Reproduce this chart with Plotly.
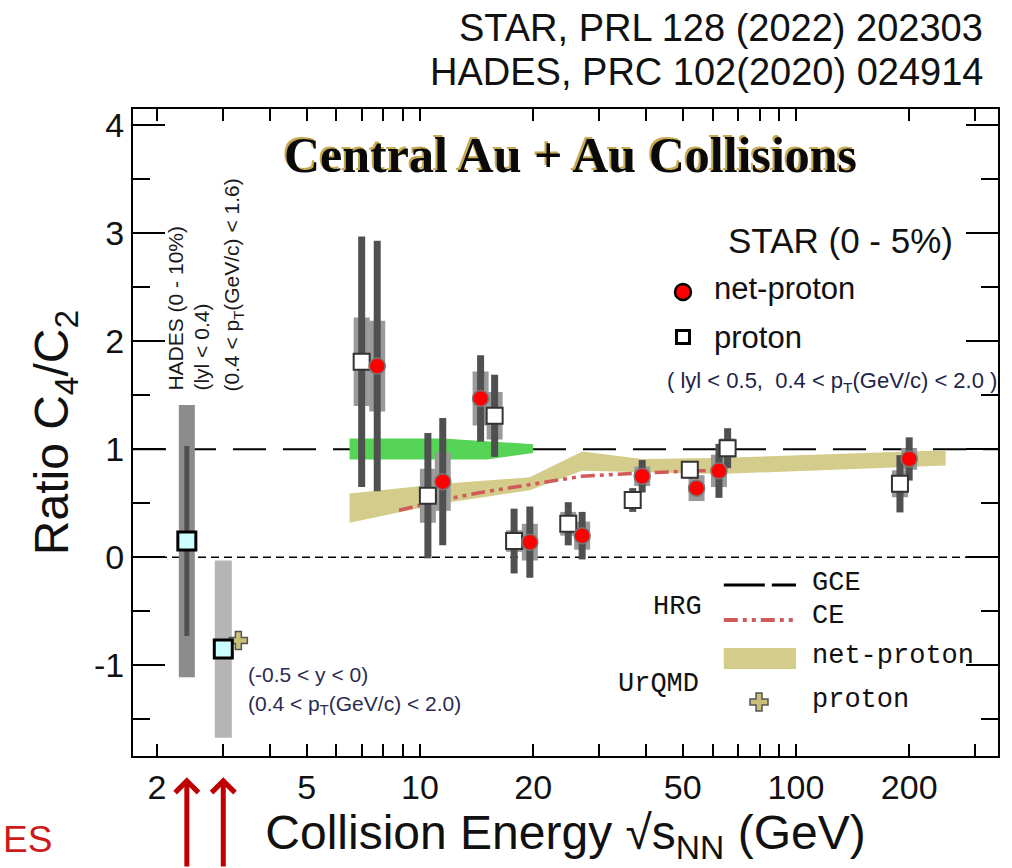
import math
import plotly.graph_objects as go

# ---------------- data ----------------
# STAR net-proton C4/C2, 0-5% central Au+Au, |y|<0.5
np_energy = [7.7, 11.5, 14.5, 19.6, 27, 39, 54.4, 62.4, 200]
np_ratio = [1.77, 0.70, 1.47, 0.14, 0.20, 0.75, 0.64, 0.80, 0.91]
np_stat = [1.16, 0.59, 0.40, 0.33, 0.22, 0.15, 0.06, 0.25, 0.20]
np_sys = [0.42, 0.27, 0.25, 0.17, 0.13, 0.09, 0.12, 0.15, 0.10]

# STAR proton C4/C2 (energies offset slightly for visibility)
p_energy = [7.0, 10.5, 15.8, 17.8, 24.8, 36.8, 52.2, 65.8, 189]
p_ratio = [1.81, 0.57, 1.31, 0.15, 0.31, 0.53, 0.81, 1.01, 0.68]
p_stat = [1.16, 0.58, 0.38, 0.30, 0.20, 0.11, 0.08, 0.185, 0.265]
p_sys = [0.41, 0.25, 0.22, 0.10, 0.11, 0.06, 0.06, 0.09, 0.125]

# HADES proton, 2.4 GeV (0-10%)
hades_energy = [2.4]
hades_ratio = [0.15]
hades_stat = [0.88]
hades_sys = [1.26]

# STAR fixed-target proton, 3 GeV
ft_energy = [3.0]
ft_ratio = [-0.85]
ft_stat = [0.09]
ft_sys = [0.82]

# UrQMD proton at 3 GeV (offset)
uq_p_energy = [3.29]
uq_p_ratio = [-0.77]
uq_p_err = [0.06]

# UrQMD net-proton band
uq_band_energy = [6.5, 11.5, 19.6, 27, 39, 62.4, 250]
uq_band_hi = [0.59, 0.68, 0.74, 0.98, 0.91, 0.92, 0.99]
uq_band_lo = [0.32, 0.50, 0.62, 0.80, 0.79, 0.77, 0.85]

# green band around unity
green_energy = [6.5, 11.5, 15.0, 20.0]
green_hi = [1.10, 1.10, 1.075, 1.046]
green_lo = [0.905, 0.905, 0.905, 0.966]

# HRG canonical ensemble
ce_energy = [8.8, 11.5, 14.5, 19.6, 27, 39, 54.4, 62.4]
ce_ratio = [0.435, 0.53, 0.60, 0.67, 0.75, 0.78, 0.80, 0.80]

# HRG grand canonical value and zero reference
gce_level = 1.0
zero_level = 0.0

x_tickvals = [2, 5, 10, 20, 50, 100, 200]
x_minor = [3, 4, 6, 7, 8, 9, 30, 40, 60, 70, 80, 90, 300]
x_long = [10, 100]
y_tickvals = [-1, 0, 1, 2, 3, 4]
y_ticktext = ["-1", "0", "1", "2", "3", "4"]
y_minor = [-1.5, -0.5, 0.5, 1.5, 2.5, 3.5]

x_range = [1.726, 344.5]
y_range = [-1.84, 4.15]

# ---------------- styles ----------------
SANS = "Liberation Sans, Arial, sans-serif"
SERIF = "Liberation Serif, Times New Roman, serif"
MONO = "Liberation Mono, Courier New, monospace"
STAT_C = "#505050"
SYS_C = "#9a9a9a"
KHAKI = "#d4cc8a"
CE_RED = "#d05a5a"
CE_DASH = "14px,5px,4px,5px,4px,5px"

fig = go.Figure()


def band(xs, hi, lo, color):
    return go.Scatter(x=xs + xs[::-1], y=hi + lo[::-1], fill="toself",
                      fillcolor=color, line=dict(width=0), mode="lines",
                      hoverinfo="skip", showlegend=False)


def err_only(xs, ys, err, color, thick):
    return go.Scatter(x=xs, y=ys, mode="markers",
                      marker=dict(size=1, opacity=0),
                      error_y=dict(type="data", array=err, visible=True,
                                   color=color, thickness=thick, width=0),
                      hoverinfo="skip", showlegend=False)


# model curves
fig.add_trace(band(green_energy, green_hi, green_lo, "#55d455"))
fig.add_trace(band(uq_band_energy, uq_band_hi, uq_band_lo, KHAKI))
fig.add_trace(go.Scatter(x=ce_energy, y=ce_ratio, mode="lines",
                         line=dict(color=CE_RED, width=3.5, dash=CE_DASH),
                         showlegend=False, hoverinfo="skip"))

# systematic boxes
fig.add_trace(err_only(hades_energy, hades_ratio, hades_sys, "#8c8c8c", 16))
fig.add_trace(err_only(ft_energy, ft_ratio, ft_sys, "#b5b5b5", 17))
fig.add_trace(err_only(p_energy, p_ratio, p_sys, SYS_C, 16))
fig.add_trace(err_only(np_energy, np_ratio, np_sys, SYS_C, 16))

# statistical bars
fig.add_trace(err_only(hades_energy, hades_ratio, hades_stat, STAT_C, 5))
fig.add_trace(err_only(ft_energy, ft_ratio, ft_stat, STAT_C, 5))
fig.add_trace(err_only(p_energy, p_ratio, p_stat, STAT_C, 7))
fig.add_trace(err_only(np_energy, np_ratio, np_stat, STAT_C, 7))

# markers
fig.add_trace(go.Scatter(x=uq_p_energy, y=uq_p_ratio, mode="markers",
                         marker=dict(symbol="cross", size=15, color="#c8bf78",
                                     line=dict(width=1.5, color="#555")),
                         error_y=dict(type="data", array=uq_p_err, color="#222",
                                      thickness=3, width=0),
                         showlegend=False))
fig.add_trace(go.Scatter(x=hades_energy + ft_energy, y=hades_ratio + ft_ratio,
                         mode="markers",
                         marker=dict(symbol="square", size=18, color="#ccffff",
                                     line=dict(width=3, color="black")),
                         showlegend=False))
fig.add_trace(go.Scatter(x=p_energy, y=p_ratio, mode="markers",
                         marker=dict(symbol="square", size=16, color="white",
                                     line=dict(width=2, color="#333")),
                         showlegend=False))
fig.add_trace(go.Scatter(x=np_energy, y=np_ratio, mode="markers",
                         marker=dict(symbol="circle", size=16, color="#ff0000",
                                     line=dict(width=1.5, color="#777")),
                         showlegend=False))

# legend glyphs on a unit overlay frame
fig.add_trace(go.Scatter(x=[0.6358], y=[0.7172], xaxis="x2", yaxis="y2",
                         mode="markers",
                         marker=dict(symbol="circle", size=16, color="#ff0000",
                                     line=dict(width=2.5, color="black")),
                         showlegend=False, hoverinfo="skip"))
fig.add_trace(go.Scatter(x=[0.6358], y=[0.6476], xaxis="x2", yaxis="y2",
                         mode="markers",
                         marker=dict(symbol="square", size=13, color="white",
                                     line=dict(width=3, color="black")),
                         showlegend=False, hoverinfo="skip"))
fig.add_trace(go.Scatter(x=[0.7237], y=[0.0835], xaxis="x2", yaxis="y2",
                         mode="markers",
                         marker=dict(symbol="cross", size=15, color="#c8bf78",
                                     line=dict(width=1.5, color="#555")),
                         showlegend=False, hoverinfo="skip"))

shapes = [
    dict(type="line", xref="paper", yref="y", x0=0, x1=1, y0=gce_level, y1=gce_level,
         line=dict(color="black", width=2, dash="33px,17px"), layer="below"),
    dict(type="line", xref="paper", yref="y", x0=0, x1=1, y0=zero_level, y1=zero_level,
         line=dict(color="black", width=1.5, dash="8px,5px"), layer="below"),
    # legend samples
    dict(type="line", xref="paper", yref="paper", x0=0.683, x1=0.7665, y0=0.2643, y1=0.2643,
         line=dict(color="black", width=3, dash="41px,7px")),
    dict(type="line", xref="paper", yref="paper", x0=0.683, x1=0.7665, y0=0.2102, y1=0.2102,
         line=dict(color=CE_RED, width=4, dash=CE_DASH)),
    dict(type="rect", xref="paper", yref="paper", x0=0.683, x1=0.7665, y0=0.1345, y1=0.1669,
         line=dict(width=0), fillcolor=KHAKI),
]

ann = []


def txt(text, x, y, size, color="#111", family=SANS, xanchor="left", yanchor="middle", **kw):
    ann.append(dict(text=text, x=x, y=y, xref="paper", yref="paper", showarrow=False,
                    font=dict(size=size, color=color, family=family),
                    xanchor=xanchor, yanchor=yanchor, **kw))


# references
txt("STAR, PRL 128 (2022) 202303", 0.985, 1.1252, 38, xanchor="right")
txt("HADES, PRC 102(2020) 024914", 0.985, 1.0572, 38, xanchor="right")

# title with golden shadow
txt("<b>Central Au + Au Collisions</b>", 0.506, 0.929, 50, color="#c8aa50",
    family=SERIF, xanchor="center", xshift=-2, yshift=2)
txt("<b>Central Au + Au Collisions</b>", 0.506, 0.929, 50, color="#0a0a0a",
    family=SERIF, xanchor="center")

# STAR legend block
txt("STAR (0 - 5%)", 0.9503, 0.7975, 35, xanchor="right")
txt("net-proton", 0.6694, 0.7218, 31)
txt("proton", 0.6694, 0.6476, 31)
txt("( lyl &lt; 0.5,  0.4 &lt; p<sub>T</sub>(GeV/c) &lt; 2.0 )", 0.615, 0.578, 22, color="#1e2448")

# HADES labels (rotated)
for xp, line in [(0.0486, "HADES (0 - 10%)"), (0.0798, "(lyl &lt; 0.4)"),
                 (0.1156, "(0.4 &lt; p<sub>T</sub>(GeV/c) &lt; 1.6)")]:
    txt(line, xp, 0.561, 21, color="#1a1a1a", xanchor="center", yanchor="bottom", textangle=-90)

# 3 GeV acceptance
txt("(-0.5 &lt; y &lt; 0)", 0.1306, 0.1252, 21, color="#2a2a50")
txt("(0.4 &lt; p<sub>T</sub>(GeV/c) &lt; 2.0)", 0.1306, 0.0788, 21, color="#2a2a50")

# HRG / UrQMD legend
txt("HRG", 0.630, 0.230, 27, family=MONO, xanchor="center")
txt("GCE", 0.7827, 0.2674, 27, family=MONO)
txt("CE", 0.7827, 0.2164, 27, family=MONO)
txt("net-proton", 0.7827, 0.1546, 27, family=MONO)
txt("UrQMD", 0.607, 0.1113, 27, family=MONO, xanchor="center")
txt("proton", 0.7827, 0.0866, 27, family=MONO)

# red arrows marking the two lowest energies
for e in hades_energy + ft_energy:
    ann.append(dict(x=math.log10(e), y=-0.033, xref="x", yref="paper", text="",
                    showarrow=True, arrowhead=4, arrowsize=0.9, arrowwidth=5,
                    arrowcolor="#c00000", ax=0, ay=110))
txt("ES", -0.1526, -0.1298, 37, color="#cc1a1a", xanchor="left")

axis_common = dict(showline=True, linewidth=2, linecolor="black", mirror="ticks",
                   showgrid=False, zeroline=False, ticks="inside", tickwidth=2,
                   tickcolor="black")

fig.update_layout(
    width=1012, height=868,
    margin=dict(l=133, r=14, t=109, b=112),
    paper_bgcolor="white", plot_bgcolor="white",
    showlegend=False,
    font=dict(family=SANS, color="#111"),
    xaxis=dict(type="log", range=[math.log10(x_range[0]), math.log10(x_range[1])],
               tickmode="array", tickvals=x_tickvals, ticktext=[str(v) for v in x_tickvals],
               ticklen=12, tickfont=dict(size=34, color="#111"),
               minor=dict(tickvals=x_minor, ticklen=12, tickwidth=2, ticks="inside",
                          tickcolor="black"),
               title=dict(text="Collision Energy √s<sub>NN</sub> (GeV)",
                          font=dict(size=48, color="#111"), standoff=4),
               **axis_common),
    xaxis3=dict(type="log", overlaying="x", anchor="y",
                range=[math.log10(x_range[0]), math.log10(x_range[1])],
                tickmode="array", tickvals=x_long, ticklen=24, showticklabels=False,
                **axis_common),
    yaxis=dict(range=y_range, tickmode="array", tickvals=y_tickvals, ticktext=y_ticktext,
               ticklen=32, tickfont=dict(size=34, color="#111"),
               minor=dict(tickvals=y_minor, ticklen=17, tickwidth=2, ticks="inside",
                          tickcolor="black"),
               title=dict(text="Ratio C<sub>4</sub>/C<sub>2</sub>",
                          font=dict(size=48, color="#111"), standoff=10),
               **axis_common),
    xaxis2=dict(overlaying="x", anchor="y2", range=[0, 1], visible=False),
    yaxis2=dict(overlaying="y", anchor="x2", range=[0, 1], visible=False),
    shapes=shapes,
    annotations=ann,
)

fig.write_html("out.html")
